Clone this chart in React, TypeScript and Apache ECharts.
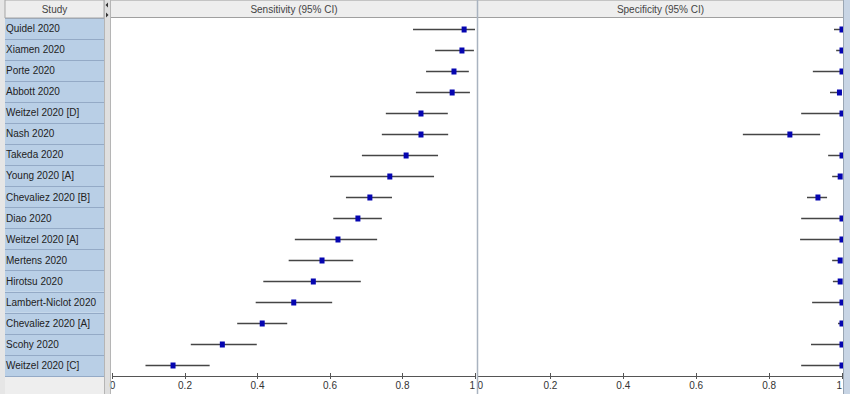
import React, { useEffect, useRef } from "react";
import * as echarts from "echarts";

const studies = [
  "Quidel 2020", "Xiamen 2020", "Porte 2020", "Abbott 2020", "Weitzel 2020 [D]",
  "Nash 2020", "Takeda 2020", "Young 2020 [A]", "Chevaliez 2020 [B]", "Diao 2020",
  "Weitzel 2020 [A]", "Mertens 2020", "Hirotsu 2020", "Lambert-Niclot 2020",
  "Chevaliez 2020 [A]", "Scohy 2020", "Weitzel 2020 [C]",
];

const sensEst = [0.970, 0.964, 0.942, 0.937, 0.851, 0.851, 0.810, 0.765, 0.710, 0.677, 0.622, 0.578, 0.554, 0.500, 0.413, 0.303, 0.167];
const sensLo = [0.829, 0.890, 0.865, 0.837, 0.754, 0.743, 0.688, 0.600, 0.644, 0.609, 0.503, 0.486, 0.416, 0.395, 0.344, 0.216, 0.091];
const sensHi = [1.000, 0.997, 0.983, 0.986, 0.925, 0.926, 0.898, 0.887, 0.771, 0.743, 0.730, 0.664, 0.685, 0.606, 0.482, 0.398, 0.268];

const specEst = [1.000, 1.000, 1.000, 0.993, 1.000, 0.857, 1.000, 0.995, 0.934, 1.000, 1.000, 0.995, 0.995, 1.000, 1.000, 1.000, 1.000];
const specLo = [0.978, 0.984, 0.920, 0.967, 0.888, 0.728, 0.962, 0.973, 0.904, 0.888, 0.885, 0.973, 0.975, 0.918, 0.989, 0.915, 0.888];
const specHi = [1.000, 1.000, 1.000, 1.000, 1.000, 0.940, 1.000, 1.000, 0.959, 1.000, 1.000, 1.000, 1.000, 1.000, 1.000, 1.000, 1.000];

const tickLabels = ["0", "0.2", "0.4", "0.6", "0.8", "1"];

const FONT = "'Liberation Sans', Arial, sans-serif";
const FS = 10;
const TOP = 18;
const H = 358;

function renderCI(params: any, api: any) {
  const est = api.value(0);
  const idx = api.value(1);
  const lo = api.value(2);
  const hi = api.value(3);
  const a = api.coord([lo, idx]);
  const b = api.coord([hi, idx]);
  const p = api.coord([est, idx]);
  return {
    type: "group",
    children: [
      {
        type: "line",
        shape: { x1: a[0], y1: Math.round(a[1]) + 0.5, x2: b[0], y2: Math.round(b[1]) + 0.5 },
        style: { stroke: "#454545", lineWidth: 1.5 },
      },
      {
        type: "rect",
        shape: { x: p[0] - 2.5, y: Math.round(p[1]) - 2.5, width: 5, height: 6 },
        style: { fill: "#0505b0" },
      },
    ],
  };
}

function mainX(gridIndex: number, minAlign: string, maxAlign: string) {
  return {
    type: "value",
    gridIndex,
    min: 0,
    max: 1,
    interval: 0.2,
    position: "bottom",
    axisLine: { show: true, lineStyle: { color: "#555", width: 1 } },
    axisTick: { show: true, length: 3, lineStyle: { color: "#555" } },
    axisLabel: {
      show: true,
      margin: 4,
      color: "#333",
      fontSize: FS,
      fontFamily: FONT,
      alignMinLabel: minAlign,
      alignMaxLabel: maxAlign,
      formatter: (v: number) => tickLabels[Math.round(v / 0.2)],
    },
    splitLine: { show: false },
  };
}

function innerX(gridIndex: number) {
  return {
    type: "value",
    gridIndex,
    min: 0,
    max: 1,
    interval: 0.2,
    position: "bottom",
    axisLine: { show: false },
    axisTick: { show: true, inside: true, length: 3, lineStyle: { color: "#555" } },
    axisLabel: { show: false },
    splitLine: { show: false },
  };
}

function catY(gridIndex: number) {
  return {
    type: "category",
    gridIndex,
    inverse: true,
    data: studies,
    axisLine: { show: false },
    axisTick: { show: false },
    axisLabel: { show: false },
    splitLine: { show: false },
  };
}

export default function App() {
  const ref = useRef<HTMLDivElement>(null);

  useEffect(() => {
    if (!ref.current) return;
    const chart = echarts.init(ref.current, undefined, { renderer: "svg" });

    const sensData = studies.map((_, i) => [sensEst[i], i, sensLo[i], sensHi[i]]);
    const specData = studies.map((_, i) => [specEst[i], i, specLo[i], specHi[i]]);

    const option: any = {
      animation: false,
      backgroundColor: "#ffffff",
      grid: [
        { left: 5, top: TOP, width: 99, height: H },
        { left: 112.5, top: TOP, width: 362.5, height: H },
        { left: 477.5, top: TOP, width: 364.5, height: H },
      ],
      xAxis: [
        { type: "value", gridIndex: 0, min: 0, max: 1, show: false },
        mainX(1, "center", "right"),
        innerX(1),
        mainX(2, "left", "right"),
        innerX(2),
      ],
      yAxis: [
        {
          type: "category",
          gridIndex: 0,
          inverse: true,
          data: studies,
          axisLine: { show: false },
          axisTick: { show: false },
          axisLabel: {
            show: true,
            inside: true,
            margin: 1,
            color: "#222",
            fontSize: FS,
            fontFamily: FONT,
          },
          splitArea: { show: true, areaStyle: { color: ["#b9cfe6"] } },
          splitLine: { show: true, lineStyle: { color: "#94aac6", width: 1 } },
        },
        catY(1),
        catY(2),
      ],
      series: [
        {
          type: "custom",
          xAxisIndex: 1,
          yAxisIndex: 1,
          clip: true,
          renderItem: renderCI,
          encode: { x: 0, y: 1 },
          data: sensData,
        },
        {
          type: "custom",
          xAxisIndex: 3,
          yAxisIndex: 2,
          clip: true,
          renderItem: renderCI,
          encode: { x: 0, y: 1 },
          data: specData,
        },
      ],
      graphic: [
        { type: "rect", z: -10, shape: { x: 0, y: 0, width: 5, height: 394 }, style: { fill: "#e6e6e6" } },
        { type: "rect", z: -10, shape: { x: 5, y: 376, width: 99, height: 18 }, style: { fill: "#eeeeee" } },
        { type: "rect", z: -10, shape: { x: 104, y: 0, width: 6, height: 394 }, style: { fill: "#dfdfdf" } },
        { type: "line", z: 5, shape: { x1: 104.5, y1: 0, x2: 104.5, y2: 394 }, style: { stroke: "#b5b5b5", lineWidth: 1 } },
        { type: "line", z: 5, shape: { x1: 110.5, y1: 0, x2: 110.5, y2: 394 }, style: { stroke: "#b5b5b5", lineWidth: 1 } },
        { type: "polygon", z: 6, shape: { points: [[105.5, 5], [108, 2.5], [108, 7.5]] }, style: { fill: "#333" } },
        { type: "polygon", z: 6, shape: { points: [[108.5, 15], [106, 12.5], [106, 17.5]] }, style: { fill: "#333" } },
        { type: "rect", z: 1, shape: { x: 5, y: 0, width: 99, height: 18 }, style: { fill: "#eeeeee", stroke: "#a5a5a5", lineWidth: 1 } },
        { type: "rect", z: 1, shape: { x: 111, y: 0, width: 733, height: 18 }, style: { fill: "#eeeeee" } },
        { type: "line", z: 2, shape: { x1: 111, y1: 0.5, x2: 844, y2: 0.5 }, style: { stroke: "#c4c4c4", lineWidth: 1 } },
        { type: "line", z: 2, shape: { x1: 111, y1: 17.5, x2: 844, y2: 17.5 }, style: { stroke: "#a0a0a0", lineWidth: 1 } },
        { type: "text", z: 3, style: { x: 54.5, y: 9.5, text: "Study", fill: "#444", font: `${FS}px ${FONT}`, textAlign: "center", textVerticalAlign: "middle" } },
        { type: "text", z: 3, style: { x: 294, y: 9.5, text: "Sensitivity (95% CI)", fill: "#444", font: `${FS}px ${FONT}`, textAlign: "center", textVerticalAlign: "middle" } },
        { type: "text", z: 3, style: { x: 660.5, y: 9.5, text: "Specificity (95% CI)", fill: "#444", font: `${FS}px ${FONT}`, textAlign: "center", textVerticalAlign: "middle" } },
        { type: "line", z: 8, shape: { x1: 477.5, y1: 0, x2: 477.5, y2: 394 }, style: { stroke: "#a9b3c0", lineWidth: 1.5 } },
        { type: "rect", z: 8, shape: { x: 844, y: 0, width: 6, height: 394 }, style: { fill: "#c8d5e5" } },
        { type: "line", z: 9, shape: { x1: 843.5, y1: 0, x2: 843.5, y2: 394 }, style: { stroke: "#9aa6b4", lineWidth: 1 } },
      ],
    };

    chart.setOption(option);
    return () => {
      chart.dispose();
    };
  }, []);

  return (
    <div
      ref={ref}
      style={{ position: "fixed", left: 0, top: 0, width: 850, height: 394 }}
    />
  );
}
